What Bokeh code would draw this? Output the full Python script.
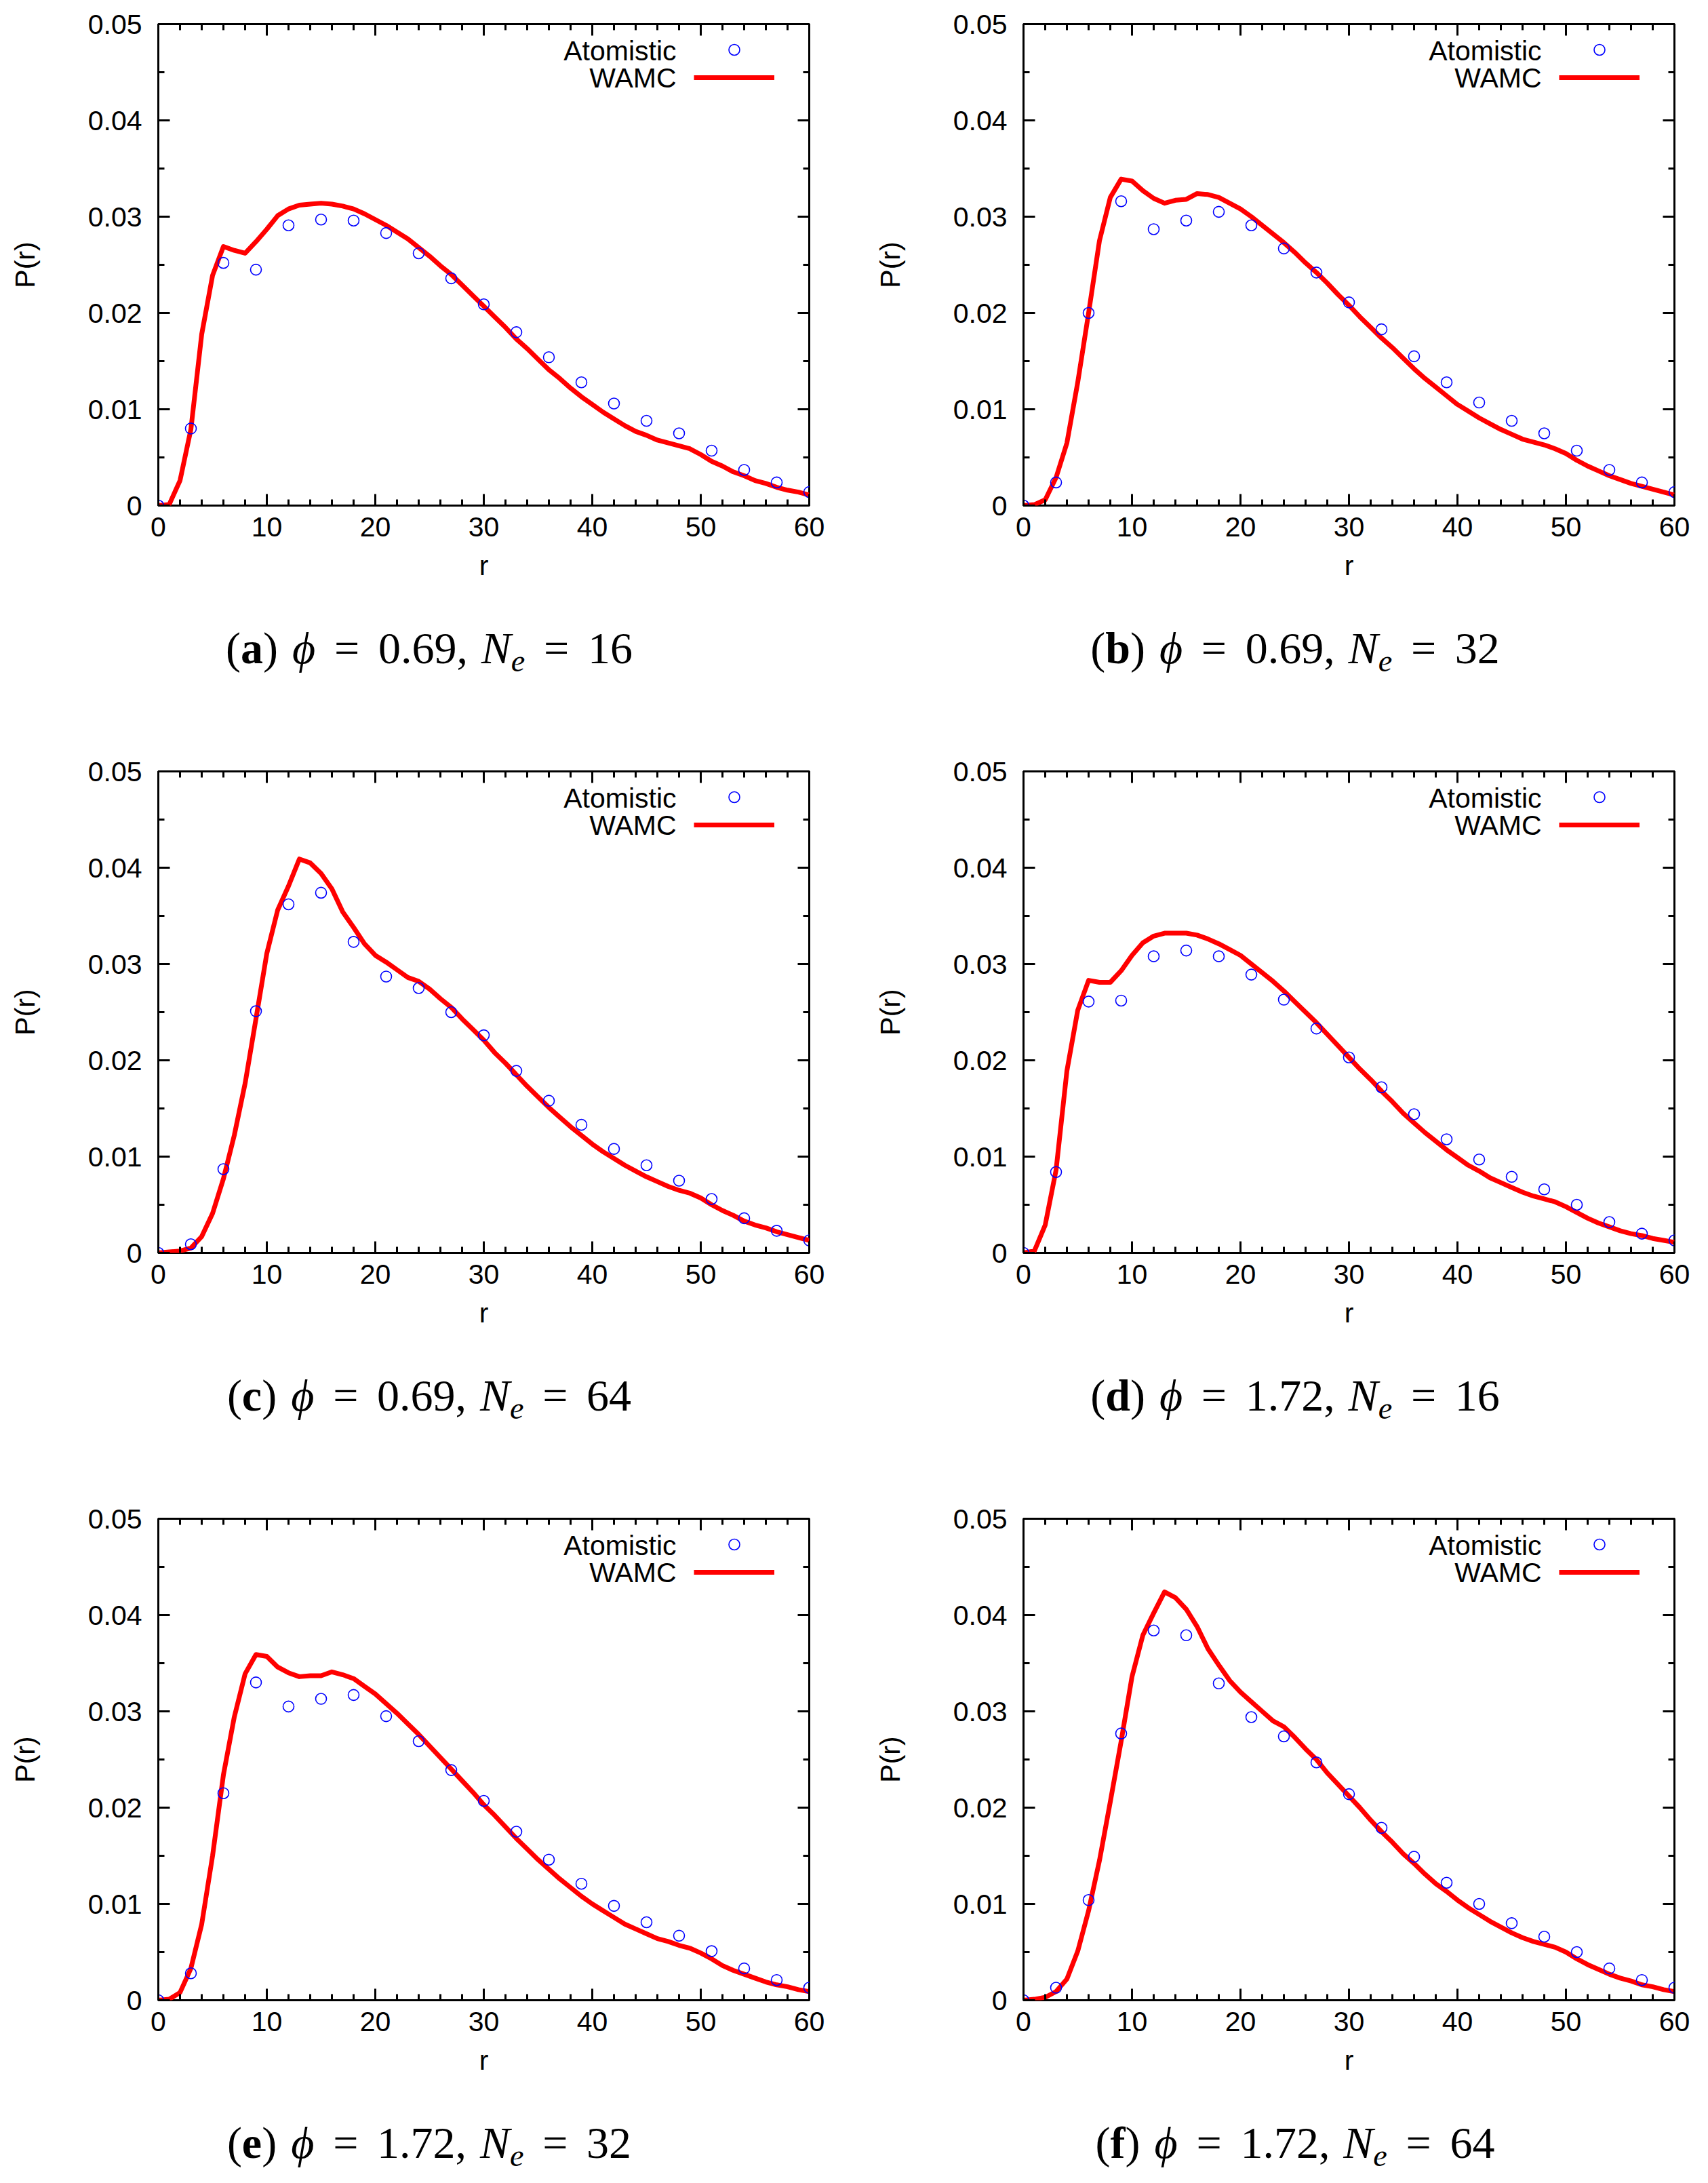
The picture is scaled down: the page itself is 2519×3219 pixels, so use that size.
from bokeh.plotting import figure
from bokeh.models import (Range1d, FixedTicker, LinearAxis, Label, Legend, LegendItem,
                          Div, CustomJSTickFormatter)
from bokeh.core.properties import value
from bokeh.layouts import column, row
from bokeh.embed import file_html
from bokeh.resources import INLINE

# ---------------- data ----------------
R_ATOM = [0, 3, 6, 9, 12, 15, 18, 21, 24, 27, 30, 33, 36, 39, 42, 45, 48, 51, 54, 57, 60]
R_WAMC = [0, 1, 2, 3, 4, 5, 6, 7, 8, 9, 10, 11, 12, 13, 14, 15, 16, 17, 18, 19, 20,
          21, 22, 23, 24, 25, 26, 27, 28, 29, 30, 31, 32, 33, 34, 35, 36, 37, 38, 39, 40,
          41, 42, 43, 44, 45, 46, 47, 48, 49, 50, 51, 52, 53, 54, 55, 56, 57, 58, 59, 60]

ATOM_A = [0.0, 0.0080, 0.0252, 0.0245, 0.0291, 0.0297, 0.0296, 0.0283, 0.0262, 0.0236, 0.0209,
          0.0180, 0.0154, 0.0128, 0.0106, 0.0088, 0.0075, 0.0057, 0.0037, 0.0024, 0.0014]
WAMC_A = [0.0, 0.0001, 0.0026, 0.0079, 0.0178, 0.0239, 0.0269, 0.0265, 0.0262, 0.0274, 0.0287,
          0.0301, 0.0308, 0.0312, 0.0313, 0.0314, 0.0313, 0.0311, 0.0308, 0.0303, 0.0297,
          0.0291, 0.0284, 0.0277, 0.0268, 0.0259, 0.0249, 0.0240, 0.0229, 0.0218, 0.0207,
          0.0196, 0.0185, 0.0173, 0.0163, 0.0152, 0.0141, 0.0132, 0.0122, 0.0113, 0.0105,
          0.0097, 0.0090, 0.0083, 0.0077, 0.0073, 0.0068, 0.0065, 0.0062, 0.0059, 0.0053,
          0.0046, 0.0041, 0.0035, 0.0031, 0.0026, 0.0023, 0.0019, 0.0016, 0.0014, 0.0011]

ATOM_B = [0.0, 0.0024, 0.0200, 0.0316, 0.0287, 0.0296, 0.0305, 0.0291, 0.0267, 0.0242, 0.0211,
          0.0183, 0.0155, 0.0128, 0.0107, 0.0088, 0.0075, 0.0057, 0.0037, 0.0024, 0.0014]
WAMC_B = [0.0, 0.0001, 0.0006, 0.0029, 0.0065, 0.0128, 0.0200, 0.0275, 0.0320, 0.0339, 0.0337,
          0.0327, 0.0319, 0.0314, 0.0317, 0.0318, 0.0324, 0.0323, 0.0320, 0.0314, 0.0308,
          0.0300, 0.0291, 0.0282, 0.0273, 0.0263, 0.0252, 0.0242, 0.0231, 0.0219, 0.0208,
          0.0196, 0.0185, 0.0174, 0.0164, 0.0153, 0.0142, 0.0132, 0.0123, 0.0114, 0.0105,
          0.0098, 0.0091, 0.0085, 0.0079, 0.0074, 0.0069, 0.0066, 0.0063, 0.0059, 0.0054,
          0.0047, 0.0041, 0.0036, 0.0031, 0.0027, 0.0023, 0.0020, 0.0017, 0.0014, 0.0011]

ATOM_C = [0.0, 0.0009, 0.0087, 0.0251, 0.0362, 0.0374, 0.0323, 0.0287, 0.0275, 0.0250, 0.0226,
          0.0189, 0.0158, 0.0133, 0.0108, 0.0091, 0.0075, 0.0056, 0.0036, 0.0023, 0.0013]
WAMC_C = [0.0, 0.0001, 0.0002, 0.0005, 0.0017, 0.0041, 0.0077, 0.0122, 0.0176, 0.0243, 0.0311,
          0.0356, 0.0381, 0.0409, 0.0405, 0.0394, 0.0378, 0.0354, 0.0338, 0.0321, 0.0309,
          0.0302, 0.0294, 0.0286, 0.0282, 0.0274, 0.0264, 0.0255, 0.0243, 0.0232, 0.0221,
          0.0208, 0.0197, 0.0185, 0.0173, 0.0162, 0.0151, 0.0141, 0.0131, 0.0122, 0.0113,
          0.0105, 0.0098, 0.0091, 0.0085, 0.0079, 0.0074, 0.0069, 0.0065, 0.0062, 0.0057,
          0.0050, 0.0044, 0.0039, 0.0033, 0.0029, 0.0026, 0.0022, 0.0019, 0.0016, 0.0013]

ATOM_D = [0.0, 0.0084, 0.0261, 0.0262, 0.0308, 0.0314, 0.0308, 0.0289, 0.0263, 0.0233, 0.0203,
          0.0172, 0.0144, 0.0118, 0.0097, 0.0079, 0.0066, 0.0050, 0.0032, 0.0020, 0.0013]
WAMC_D = [0.0, 0.0002, 0.0029, 0.0086, 0.0189, 0.0252, 0.0283, 0.0281, 0.0281, 0.0293, 0.0309,
          0.0322, 0.0329, 0.0332, 0.0332, 0.0332, 0.0330, 0.0326, 0.0321, 0.0315, 0.0309,
          0.0300, 0.0291, 0.0282, 0.0272, 0.0261, 0.0250, 0.0239, 0.0227, 0.0215, 0.0203,
          0.0191, 0.0180, 0.0168, 0.0157, 0.0145, 0.0135, 0.0125, 0.0116, 0.0107, 0.0099,
          0.0091, 0.0085, 0.0078, 0.0073, 0.0068, 0.0063, 0.0059, 0.0056, 0.0053, 0.0048,
          0.0042, 0.0036, 0.0031, 0.0027, 0.0023, 0.0020, 0.0018, 0.0015, 0.0013, 0.0011]

ATOM_E = [0.0, 0.0028, 0.0215, 0.0330, 0.0305, 0.0313, 0.0317, 0.0295, 0.0269, 0.0239, 0.0207,
          0.0175, 0.0146, 0.0121, 0.0098, 0.0081, 0.0067, 0.0051, 0.0033, 0.0021, 0.0013]
WAMC_E = [0.0, 0.0001, 0.0008, 0.0033, 0.0079, 0.0150, 0.0234, 0.0294, 0.0339, 0.0359, 0.0357,
          0.0346, 0.0340, 0.0336, 0.0337, 0.0337, 0.0341, 0.0338, 0.0334, 0.0326, 0.0318,
          0.0308, 0.0298, 0.0287, 0.0276, 0.0264, 0.0252, 0.0240, 0.0228, 0.0216, 0.0203,
          0.0192, 0.0180, 0.0168, 0.0157, 0.0146, 0.0136, 0.0126, 0.0117, 0.0108, 0.0100,
          0.0093, 0.0086, 0.0079, 0.0074, 0.0069, 0.0064, 0.0061, 0.0057, 0.0054, 0.0049,
          0.0043, 0.0036, 0.0031, 0.0027, 0.0023, 0.0019, 0.0016, 0.0014, 0.0011, 0.0009]

ATOM_F = [0.0, 0.0013, 0.0104, 0.0277, 0.0384, 0.0379, 0.0329, 0.0294, 0.0274, 0.0247, 0.0214,
          0.0179, 0.0149, 0.0122, 0.0100, 0.0080, 0.0066, 0.0050, 0.0033, 0.0021, 0.0013]
WAMC_F = [0.0, 0.0001, 0.0003, 0.0009, 0.0022, 0.0051, 0.0093, 0.0145, 0.0206, 0.0269, 0.0336,
          0.0379, 0.0402, 0.0424, 0.0418, 0.0406, 0.0388, 0.0365, 0.0348, 0.0332, 0.0320,
          0.0310, 0.0300, 0.0290, 0.0284, 0.0273, 0.0261, 0.0250, 0.0236, 0.0224, 0.0212,
          0.0200, 0.0187, 0.0175, 0.0164, 0.0152, 0.0142, 0.0131, 0.0121, 0.0113, 0.0104,
          0.0096, 0.0089, 0.0082, 0.0076, 0.0070, 0.0065, 0.0061, 0.0058, 0.0055, 0.0050,
          0.0043, 0.0037, 0.0032, 0.0027, 0.0023, 0.0020, 0.0016, 0.0014, 0.0011, 0.0009]

LETTERS = ["a", "b", "c", "d", "e", "f"]
PHI = ["0.69", "0.69", "0.69", "1.72", "1.72", "1.72"]
NE = ["16", "32", "64", "16", "32", "64"]
ATOMS = [ATOM_A, ATOM_B, ATOM_C, ATOM_D, ATOM_E, ATOM_F]
WAMCS = [WAMC_A, WAMC_B, WAMC_C, WAMC_D, WAMC_E, WAMC_F]

X_TICKS = [0, 10, 20, 30, 40, 50, 60]
X_LABELS = ["0", "10", "20", "30", "40", "50", "60"]
X_MINOR = [0, 2, 4, 6, 8, 10, 12, 14, 16, 18, 20, 22, 24, 26, 28, 30, 32, 34, 36, 38, 40,
           42, 44, 46, 48, 50, 52, 54, 56, 58, 60]
Y_TICKS = [0, 0.01, 0.02, 0.03, 0.04, 0.05]
Y_LABELS = ["0", "0.01", "0.02", "0.03", "0.04", "0.05"]
Y_MINOR = [0.005, 0.015, 0.025, 0.035, 0.045]

SERIES_NAMES = ["Atomistic", "WAMC"]
X_LABEL = "r"
Y_LABEL = "P(r)"

# ---------------- style ----------------
SANS = "Liberation Sans"
SERIF = "Liberation Serif"
RED = "#ff0000"
BLUE = "#0000ff"
FS = "41px"
FRAME_W, FRAME_H = 960, 710
TOP = 35
ROW_PITCH = 1102
FIG_H = 888
COL1_W, COL2_W = 1276, 1241


def style_axis(ax, ticks, minor, labels=None):
    ax.ticker = FixedTicker(ticks=ticks, minor_ticks=minor)
    ax.major_tick_in = 17
    ax.major_tick_out = 0
    ax.minor_tick_in = 9
    ax.minor_tick_out = 0
    ax.major_tick_line_width = 3
    ax.minor_tick_line_width = 3
    ax.major_tick_line_color = "black"
    ax.minor_tick_line_color = "black"
    ax.axis_line_color = None
    if labels is not None:
        ax.major_label_overrides = {t: l for t, l in zip(ticks, labels)}
        ax.major_label_text_font = SANS
        ax.major_label_text_font_size = FS
        ax.major_label_text_color = "black"
        ax.axis_label_text_font = SANS
        ax.axis_label_text_font_size = FS
        ax.axis_label_text_font_style = "normal"
        ax.axis_label_text_color = "black"
    else:
        ax.formatter = CustomJSTickFormatter(code="return ''")
        ax.major_label_text_font_size = "1px"
        ax.major_label_standoff = 0


def make_panel(i, left_col):
    mb_left = 233
    total_w = COL1_W if left_col else COL2_W
    mb_right = total_w - mb_left - FRAME_W
    p = figure(title=None, frame_width=FRAME_W, frame_height=FRAME_H,
               min_border_left=mb_left, min_border_right=mb_right,
               min_border_top=TOP, min_border_bottom=FIG_H - FRAME_H - TOP,
               x_range=Range1d(0, 60), y_range=Range1d(0, 0.05),
               x_axis_label=X_LABEL, y_axis_label=Y_LABEL,
               output_backend="svg", toolbar_location=None)
    p.grid.visible = False
    p.outline_line_color = "black"
    p.outline_line_width = 3
    p.outline_line_alpha = 1.0
    p.background_fill_color = "white"
    p.border_fill_color = "white"

    style_axis(p.xaxis[0], X_TICKS, X_MINOR, X_LABELS)
    style_axis(p.yaxis[0], Y_TICKS, Y_MINOR, Y_LABELS)
    p.xaxis[0].major_label_standoff = 17
    p.xaxis[0].axis_label_standoff = 17
    p.yaxis[0].major_label_standoff = 24
    p.yaxis[0].axis_label_standoff = 67

    top = LinearAxis()
    style_axis(top, X_TICKS, X_MINOR)
    p.add_layout(top, "above")
    right = LinearAxis()
    style_axis(right, Y_TICKS, Y_MINOR)
    p.add_layout(right, "right")

    ln = p.line(R_WAMC, WAMCS[i], line_color=RED, line_width=7, line_join="round")
    sc = p.scatter(R_ATOM, ATOMS[i], marker="circle", size=16, fill_color=None,
                   line_color=BLUE, line_width=1.6)

    leg = Legend(items=[LegendItem(label=value(""), renderers=[sc]),
                        LegendItem(label=value(""), renderers=[ln])],
                 location=(790, 611), orientation="vertical",
                 glyph_width=119, glyph_height=40, spacing=1, padding=0, margin=0,
                 label_width=0, label_height=0, label_standoff=0,
                 label_text_font_size="1px",
                 border_line_color=None, background_fill_alpha=0)
    p.add_layout(leg)
    for name, yy in zip(SERIES_NAMES, [671, 631]):
        p.add_layout(Label(x=764, y=yy, x_units="screen", y_units="screen", text=name,
                           text_align="right", text_baseline="middle",
                           text_font=SANS, text_font_size=FS, text_color="black"))
    return p


def caption(i, width, height, center):
    # center: x position (px, within this column) of the caption's centre
    eq = '<span style="margin:0 0.42em">=</span>'
    left = 2 * center - width
    pad = f"padding-left:{left}px;" if left > 0 else f"padding-right:{-left}px;"
    html = (f'<div style="box-sizing:border-box;width:{width}px;{pad}'
            f'font-family:\'{SERIF}\',serif;font-size:66px;line-height:66px;'
            f'padding-top:35px;text-align:center;white-space:nowrap;color:black;">'
            f'(<b>{LETTERS[i]}</b>)<span style="margin-left:0.32em"></span><i>&#981;</i>{eq}'
            f'{PHI[i]},<span style="margin-left:0.3em"></span><i>N</i>'
            f'<sub style="font-size:0.7em;line-height:0;vertical-align:-0.25em;"><i>e</i></sub>'
            f'{eq}{NE[i]}</div>')
    return Div(text=html, width=width, height=height, margin=0)


rows = []
for r_i in range(3):
    i0, i1 = 2 * r_i, 2 * r_i + 1
    pa = make_panel(i0, True)
    pb = make_panel(i1, False)
    cap_h = ROW_PITCH - FIG_H if r_i < 2 else 125
    da = caption(i0, COL1_W, cap_h, 633)
    db = caption(i1, COL2_W, cap_h, 1910 - COL1_W)
    rows.append(row(pa, pb))
    rows.append(row(da, db))

layout = column(*rows)
open("out.html", "w").write(file_html(layout, INLINE))
